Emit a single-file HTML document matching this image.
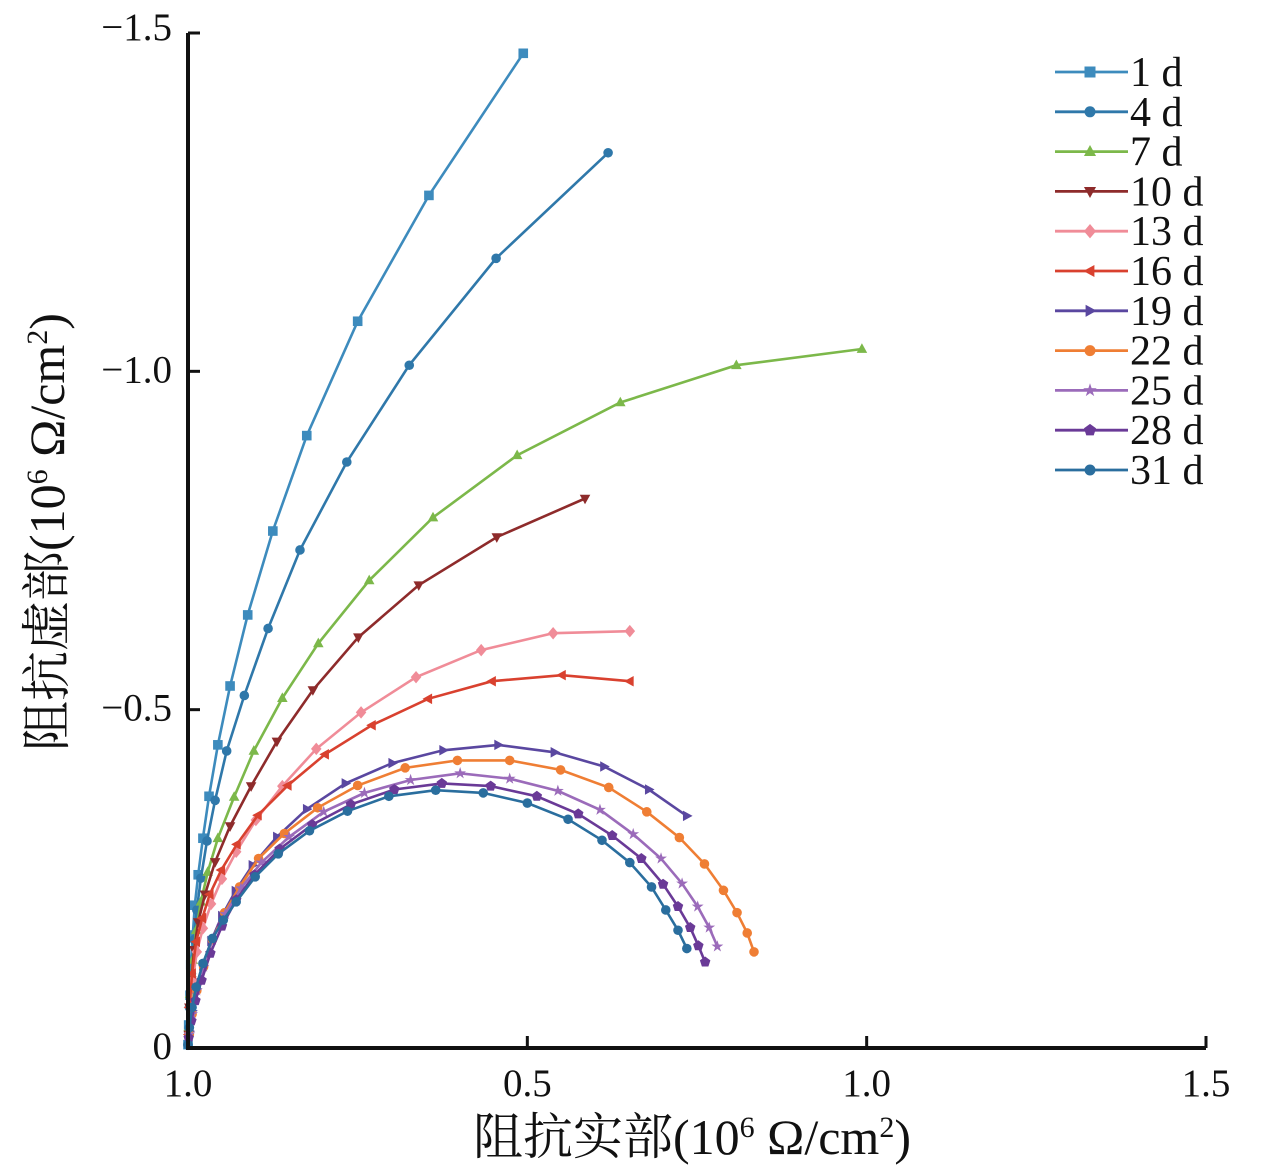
<!DOCTYPE html>
<html><head><meta charset="utf-8"><style>
html,body{margin:0;padding:0;background:#fff;}
svg{display:block;}
text{font-family:"Liberation Serif","Noto Serif CJK SC",serif;fill:#111;}
</style></head><body>
<svg id="chart" width="1268" height="1170" viewBox="0 0 1268 1170" xmlns="http://www.w3.org/2000/svg"></svg>
<script>
const seriesNames = ["1 d","4 d","7 d","10 d","13 d","16 d","19 d","22 d","25 d","28 d","31 d"];
const xTickValues = [0,0.5,1.0,1.5];
const xTickLabels = ["1.0","0.5","1.0","1.5"];
const yTickValues = [0,-0.5,-1.0,-1.5];
const yTickLabels = ["0","\u22120.5","\u22121.0","\u22121.5"];
const s1x=[0.494,0.355,0.250,0.175,0.125,0.088,0.062,0.044,0.031,0.022,0.015,0.010,0.007,0.004,0.003,0.001,0];
const s1y=[1.470,1.260,1.074,0.905,0.764,0.640,0.535,0.448,0.372,0.310,0.256,0.211,0.167,0.123,0.078,0.034,0.005];
const s4x=[0.619,0.454,0.326,0.234,0.165,0.118,0.083,0.057,0.040,0.028,0.019,0.013,0.009,0.005,0.002,0.001,0];
const s4y=[1.323,1.167,1.009,0.866,0.736,0.620,0.521,0.439,0.366,0.306,0.251,0.204,0.160,0.110,0.060,0.020,0.004];
const s7x=[0.993,0.808,0.637,0.485,0.361,0.267,0.192,0.139,0.097,0.068,0.044,0.029,0.019,0.012,0.007,0.003,0.001];
const s7y=[1.033,1.009,0.954,0.876,0.784,0.691,0.598,0.517,0.439,0.371,0.310,0.260,0.216,0.174,0.130,0.080,0.030];
const s10x=[0.585,0.455,0.340,0.251,0.184,0.131,0.093,0.062,0.040,0.025,0.015,0.009,0.005,0.002,0.001];
const s10y=[0.812,0.755,0.684,0.607,0.529,0.453,0.387,0.328,0.275,0.227,0.186,0.145,0.100,0.060,0.020];
const s13x=[0.651,0.538,0.432,0.336,0.255,0.189,0.139,0.100,0.071,0.050,0.034,0.022,0.013,0.007,0.003,0.001];
const s13y=[0.616,0.613,0.588,0.548,0.496,0.442,0.387,0.337,0.290,0.250,0.213,0.177,0.142,0.100,0.060,0.020];
const s16x=[0.651,0.551,0.448,0.354,0.271,0.202,0.147,0.103,0.072,0.049,0.032,0.021,0.012,0.006,0.002,0.001];
const s16y=[0.542,0.551,0.542,0.516,0.477,0.434,0.388,0.344,0.301,0.263,0.227,0.192,0.157,0.110,0.060,0.020];
const s19x=[0.735,0.679,0.613,0.540,0.457,0.376,0.301,0.232,0.175,0.131,0.095,0.070,0.050,0.034,0.022,0.012,0.006,0.002];
const s19y=[0.343,0.382,0.416,0.437,0.448,0.440,0.421,0.391,0.353,0.312,0.270,0.232,0.195,0.158,0.122,0.088,0.055,0.025];
const s22x=[0.834,0.824,0.809,0.789,0.761,0.724,0.676,0.620,0.549,0.474,0.397,0.320,0.250,0.191,0.142,0.104,0.076,0.054,0.036,0.023,0.013,0.006,0.002];
const s22y=[0.142,0.170,0.200,0.233,0.272,0.311,0.349,0.385,0.411,0.425,0.425,0.414,0.388,0.355,0.317,0.280,0.238,0.200,0.160,0.120,0.085,0.050,0.020];
const s25x=[0.780,0.768,0.751,0.728,0.697,0.656,0.607,0.545,0.474,0.401,0.328,0.260,0.200,0.149,0.108,0.078,0.055,0.036,0.023,0.013,0.006,0.002];
const s25y=[0.150,0.178,0.209,0.243,0.280,0.316,0.352,0.380,0.398,0.406,0.396,0.377,0.349,0.312,0.274,0.236,0.198,0.160,0.120,0.085,0.050,0.020];
const s28x=[0.762,0.752,0.740,0.722,0.700,0.668,0.625,0.575,0.514,0.446,0.374,0.304,0.240,0.183,0.135,0.098,0.071,0.050,0.033,0.020,0.011,0.005,0.001];
const s28y=[0.127,0.151,0.178,0.209,0.242,0.280,0.314,0.346,0.372,0.387,0.391,0.382,0.360,0.330,0.294,0.256,0.219,0.180,0.140,0.100,0.070,0.040,0.015];
const s31x=[0.735,0.722,0.704,0.683,0.651,0.610,0.560,0.500,0.435,0.365,0.296,0.235,0.179,0.133,0.099,0.071,0.052,0.036,0.022,0.012,0.006,0.002,0];
const s31y=[0.147,0.174,0.204,0.238,0.274,0.307,0.338,0.362,0.377,0.381,0.372,0.350,0.321,0.287,0.253,0.216,0.189,0.162,0.125,0.090,0.060,0.030,0.005];

const allX=[s1x,s4x,s7x,s10x,s13x,s16x,s19x,s22x,s25x,s28x,s31x];
const allY=[s1y,s4y,s7y,s10y,s13y,s16y,s19y,s22y,s25y,s28y,s31y];
const colors=["#3d8bbd","#2f78aa","#7cb84a","#8e2b2b","#f08c98","#d9412f","#5a47a0","#ef7e34","#9b6bba","#6a3a97","#2a6e9e"];
const markers=["square","circle","tri-up","tri-down","diamond","tri-left","tri-right","circle","star","pentagon","circle"];

const NS="http://www.w3.org/2000/svg";
const svg=document.getElementById('chart');
const X0=188,X1=1206,Y0=1048,Y1=33;
function xs(v){return X0+(v-0)/(1.5)*(X1-X0);}
function ys(v){return Y0-(-v)/(1.5)*(Y0-Y1);}
function mk(tag,attrs){const e=document.createElementNS(NS,tag);for(const k in attrs)e.setAttribute(k,attrs[k]);return e;}

function markerEl(type,cx,cy,color,r){
  let e;
  if(type==="circle"){e=mk('circle',{cx:cx,cy:cy,r:r});}
  else if(type==="square"){e=mk('rect',{x:cx-r,y:cy-r,width:2*r,height:2*r});}
  else{
    let pts=[];
    if(type==="tri-up")pts=[[0,-1.2],[1.1,0.8],[-1.1,0.8]];
    else if(type==="tri-down")pts=[[0,1.2],[1.1,-0.8],[-1.1,-0.8]];
    else if(type==="tri-left")pts=[[-1.2,0],[0.8,-1.1],[0.8,1.1]];
    else if(type==="tri-right")pts=[[1.2,0],[-0.8,-1.1],[-0.8,1.1]];
    else if(type==="diamond")pts=[[0,-1.3],[1.1,0],[0,1.3],[-1.1,0]];
    else if(type==="pentagon"){for(let i=0;i<5;i++){const a=-Math.PI/2+i*2*Math.PI/5;pts.push([1.15*Math.cos(a),1.15*Math.sin(a)]);}}
    else if(type==="star"){for(let i=0;i<10;i++){const a=-Math.PI/2+i*Math.PI/5;const rr=i%2?0.5:1.3;pts.push([rr*Math.cos(a),rr*Math.sin(a)]);}}
    e=mk('polygon',{points:pts.map(p=>(cx+p[0]*r)+','+(cy+p[1]*r)).join(' ')});
  }
  e.setAttribute('fill',color);
  return e;
}

for(let s=0;s<allX.length;s++){
  const g=mk('g',{});
  
  
  const d=allX[s].map((v,i)=>(i?'L':'M')+xs(v).toFixed(1)+' '+ys(-allY[s][i]).toFixed(1)).join(' ');
  const p=mk('path',{d:d,fill:'none',stroke:colors[s],'stroke-width':2.6});
  
  
  g.appendChild(p);
  for(let i=0;i<allX[s].length;i++){
    const m=markerEl(markers[s],xs(allX[s][i]),ys(-allY[s][i]),colors[s],4.8);
    
    
    g.appendChild(m);
  }
  svg.appendChild(g);
}

const ax=mk('path',{d:`M${X0} ${Y1} L${X0} ${Y0} L${X1} ${Y0}`,fill:'none',stroke:'#111','stroke-width':4});


svg.appendChild(ax);
for(let i=0;i<xTickValues.length;i++){
  const x=xs(xTickValues[i]);
  if(i>0){const t=mk('line',{x1:x,y1:Y0,x2:x,y2:Y0-12,stroke:'#111','stroke-width':3});
  
  
  svg.appendChild(t);}
  const tx=mk('text',{x:x,y:1096,'text-anchor':'middle','font-size':39});
  tx.textContent=xTickLabels[i];
  
  
  svg.appendChild(tx);
}
for(let i=0;i<yTickValues.length;i++){
  const y=ys(yTickValues[i]);
  if(i>0){const t=mk('line',{x1:X0,y1:y,x2:X0+12,y2:y,stroke:'#111','stroke-width':3});
  
  
  svg.appendChild(t);}
  const tx=mk('text',{x:172,y:y+11-(i===3?4:0),'text-anchor':'end','font-size':39});
  tx.textContent=yTickLabels[i];
  
  
  svg.appendChild(tx);
}

const xt=mk('text',{x:692,y:1154,'text-anchor':'middle','font-size':50});
xt.innerHTML='阻抗实部(10<tspan font-size="30" dy="-17">6</tspan><tspan dy="17"> Ω/cm</tspan><tspan font-size="30" dy="-17">2</tspan><tspan dy="17">)</tspan>';


svg.appendChild(xt);
const yt=mk('text',{x:0,y:0,'text-anchor':'middle','font-size':50,transform:'translate(64,532) rotate(-90)'});
yt.innerHTML='阻抗虚部(10<tspan font-size="30" dy="-17">6</tspan><tspan dy="17"> Ω/cm</tspan><tspan font-size="30" dy="-17">2</tspan><tspan dy="17">)</tspan>';


svg.appendChild(yt);

const lg=mk('g',{});


svg.appendChild(lg);
for(let s=0;s<seriesNames.length;s++){
  const y=72+s*39.8;
  const e=mk('g',{});
  
  
  e.appendChild(mk('line',{x1:1055,y1:y,x2:1128,y2:y,stroke:colors[s],'stroke-width':2.8}));
  e.appendChild(markerEl(markers[s],1090,y,colors[s],5.5));
  const t=mk('text',{x:1130,y:y+14,'font-size':42});
  t.textContent=seriesNames[s];
  e.appendChild(t);
  lg.appendChild(e);
}
</script>
</body></html>
